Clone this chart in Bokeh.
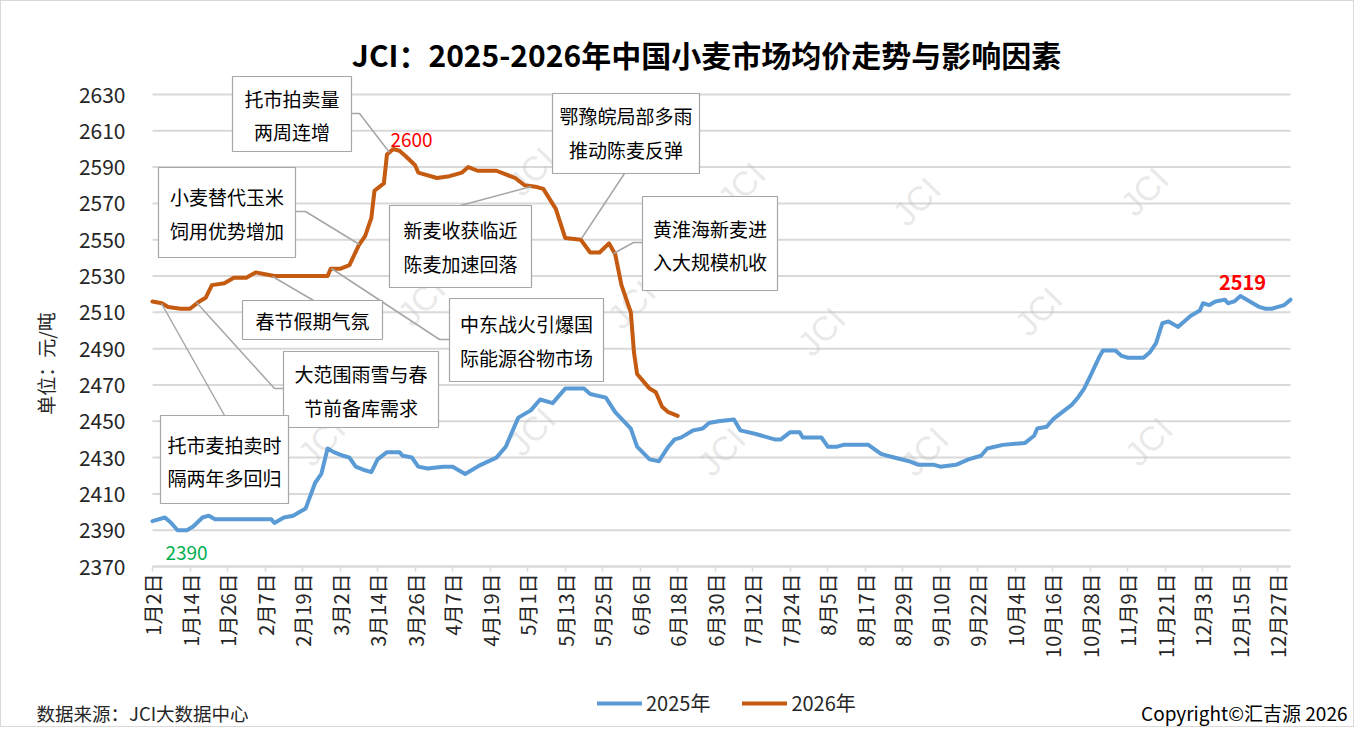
import re
from datetime import date
from math import pi

from bokeh.plotting import figure
from bokeh.models import (FixedTicker, Label, Legend, LegendItem, Range1d)
from bokeh.embed import file_html
from bokeh.resources import INLINE
from bokeh.core.properties import value

# ---------------- data ----------------
title_text = "JCI：2025-2026年中国小麦市场均价走势与影响因素"
y_title = "单位：元/吨"
source_text = "数据来源：JCI大数据中心"
copyright_text = "Copyright©汇吉源 2026"
series_names = ["2025年", "2026年"]

tick_labels = ["1月2日", "1月14日", "1月26日", "2月7日", "2月19日", "3月2日", "3月14日",
               "3月26日", "4月7日", "4月19日", "5月1日", "5月13日", "5月25日", "6月6日",
               "6月18日", "6月30日", "7月12日", "7月24日", "8月5日", "8月17日", "8月29日",
               "9月10日", "9月22日", "10月4日", "10月16日", "10月28日", "11月9日",
               "11月21日", "12月3日", "12月15日", "12月27日"]
y_ticks = [2370, 2390, 2410, 2430, 2450, 2470, 2490, 2510, 2530, 2550, 2570, 2590, 2610, 2630]

dates_2025 = ["01-02", "01-06", "01-08", "01-10", "01-13", "01-15", "01-18", "01-20", "01-22",
              "02-09", "02-10", "02-13", "02-16", "02-18", "02-20", "02-23", "02-25", "02-27",
              "02-29", "03-03", "03-05", "03-07", "03-10", "03-12", "03-14", "03-17", "03-21",
              "03-22", "03-25", "03-27", "03-30", "04-04", "04-07", "04-11", "04-16", "04-21",
              "04-24", "04-28", "05-02", "05-05", "05-09", "05-13", "05-19", "05-21", "05-26",
              "05-29", "06-03", "06-05", "06-09", "06-12", "06-15", "06-17", "06-19", "06-23",
              "06-26", "06-28", "07-01", "07-06", "07-08", "07-13", "07-19", "07-21", "07-24",
              "07-27", "07-28", "08-03", "08-05", "08-08", "08-10", "08-18", "08-22", "08-24",
              "08-31", "09-03", "09-08", "09-10", "09-15", "09-19", "09-23", "09-25", "09-30",
              "10-07", "10-10", "10-11", "10-14", "10-16", "10-19", "10-22", "10-24", "10-26",
              "10-28", "10-31", "11-01", "11-05", "11-07", "11-09", "11-14", "11-16", "11-18",
              "11-20", "11-22", "11-25", "11-27", "11-29", "12-02", "12-03", "12-05", "12-07",
              "12-10", "12-11", "12-13", "12-15", "12-18", "12-21", "12-23", "12-25", "12-27",
              "12-29", "12-31"]
price_2025 = [2395, 2397, 2394, 2390, 2390, 2392, 2397, 2398, 2396,
              2396, 2394, 2397, 2398, 2400, 2402, 2416, 2421, 2435,
              2433, 2431, 2430, 2425, 2423, 2422, 2429, 2433, 2433,
              2431, 2430, 2425, 2424, 2425, 2425, 2421, 2426, 2430,
              2436, 2452, 2456, 2462, 2460, 2468, 2468, 2465, 2463,
              2455, 2446, 2436, 2429, 2428, 2436, 2440, 2441, 2445,
              2446, 2449, 2450, 2451, 2445, 2443, 2440, 2440, 2444,
              2444, 2441, 2441, 2436, 2436, 2437, 2437, 2432, 2431,
              2428, 2426, 2426, 2425, 2426, 2429, 2431, 2435, 2437,
              2438, 2442, 2446, 2447, 2451, 2455, 2459, 2463, 2468,
              2475, 2486, 2489, 2489, 2486, 2485, 2485, 2488, 2493,
              2504, 2505, 2502, 2505, 2508, 2511, 2515, 2514, 2516,
              2517, 2515, 2516, 2519, 2516, 2513, 2512, 2512, 2513,
              2514, 2517]

dates_2026 = ["01-02", "01-05", "01-07", "01-11", "01-14", "01-17", "01-19", "01-21", "01-25",
              "01-28", "02-01", "02-04", "02-07", "02-10", "02-27", "02-28", "03-02", "03-05",
              "03-08", "03-10", "03-12", "03-13", "03-16", "03-17", "03-19", "03-21", "03-23",
              "03-26", "03-27", "04-02", "04-06", "04-10", "04-12", "04-15", "04-21", "04-27",
              "04-30", "05-04", "05-06", "05-10", "05-13", "05-18", "05-21", "05-24", "05-27",
              "05-29", "05-31", "06-03", "06-04", "06-05", "06-09", "06-11", "06-13", "06-15",
              "06-18"]
price_2026 = [2516, 2515, 2513, 2512, 2512, 2516, 2518, 2525, 2526,
              2529, 2529, 2532, 2531, 2530, 2530, 2534, 2534, 2536,
              2547, 2552, 2562, 2577, 2581, 2597, 2600, 2599, 2596,
              2591, 2587, 2584, 2585, 2587, 2590, 2588, 2588, 2584,
              2580, 2579, 2578, 2567, 2551, 2550, 2543, 2543, 2548,
              2542, 2525, 2510, 2488, 2476, 2468, 2466, 2458, 2455,
              2453]

note_texts = [
    ["托市拍卖量", "两周连增"],
    ["小麦替代玉米", "饲用优势增加"],
    ["新麦收获临近", "陈麦加速回落"],
    ["春节假期气氛"],
    ["中东战火引爆国", "际能源谷物市场"],
    ["大范围雨雪与春", "节前备库需求"],
    ["托市麦拍卖时", "隔两年多回归"],
    ["鄂豫皖局部多雨", "推动陈麦反弹"],
    ["黄淮海新麦进", "入大规模机收"],
]
peak_2026_text = "2600"
peak_2025_text = "2519"
low_2025_text = "2390"

# ---------------- helpers ----------------
BASE = date(2024, 1, 2)  # axis calendar (leap-year day spacing as in the original)


def day_of(mmdd):
    m, d = mmdd.split("-")
    return (date(2024, int(m), int(d)) - BASE).days


def day_of_label(lbl):
    m, d = re.match(r"(\d+)月(\d+)日", lbl).groups()
    return (date(2024, int(m), int(d)) - BASE).days


X0, X1 = 0, 364
W, H = 1354, 727
# pixel geometry of the plot area
PX_L, PX_R = 151.0, 1289.0
PX_BOT, PX_TOP_TICK = 565.0, 93.0
YPX = (PX_BOT - PX_TOP_TICK) / (y_ticks[-1] - y_ticks[0])
XPX = (PX_R - PX_L) / (X1 - X0)


def dx(px):
    return X0 + (px - PX_L) / XPX


def vy(py):
    return y_ticks[0] + (PX_BOT - py) / YPX


FONT = "Noto Sans CJK SC"
TXT = "#262626"

p = figure(width=W, height=H, x_range=Range1d(dx(0), dx(W)), y_range=Range1d(vy(H), vy(0)),
           output_backend="svg", toolbar_location=None, title=None,
           min_border=0, min_border_left=0, min_border_right=0,
           min_border_top=0, min_border_bottom=0)
p.outline_line_color = None
p.background_fill_color = "white"
p.border_fill_color = "white"
p.styles = {"border": "1px solid #d9d9d9"}

# horizontal grid lines limited to the plot area
p.segment(x0=[X0] * len(y_ticks), x1=[X1] * len(y_ticks), y0=y_ticks, y1=y_ticks,
          line_color="#d9d9d9", line_width=2)
p.xgrid.visible = False
p.ygrid.visible = False

# axes drawn at fixed locations inside the frame
p.xaxis.fixed_location = y_ticks[0]
p.xaxis.bounds = (X0, X1)
p.xaxis.ticker = FixedTicker(ticks=[day_of_label(t) for t in tick_labels])
p.xaxis.major_label_overrides = {day_of_label(t): t for t in tick_labels}
p.xaxis.major_label_orientation = pi / 2
p.xaxis.axis_line_color = "#d9d9d9"
p.xaxis.axis_line_width = 2
p.xaxis.major_tick_line_color = "#d9d9d9"
p.xaxis.major_tick_line_width = 1.5
p.xaxis.major_tick_in = 0
p.xaxis.major_tick_out = 5
p.xaxis.minor_tick_line_color = None
p.xaxis.major_label_standoff = 2
p.xaxis.major_label_text_font = FONT
p.xaxis.major_label_text_font_size = "20px"
p.xaxis.major_label_text_color = TXT

p.yaxis.fixed_location = X0
p.yaxis.bounds = (y_ticks[0], y_ticks[-1])
p.yaxis.ticker = FixedTicker(ticks=y_ticks)
p.yaxis.axis_line_color = None
p.yaxis.major_tick_line_color = None
p.yaxis.minor_tick_line_color = None
p.yaxis.major_label_standoff = 21
p.yaxis.major_label_text_font = FONT
p.yaxis.major_label_text_font_size = "21px"
p.yaxis.major_label_text_color = TXT

# watermarks (faint logo text)
wm_px = [(320, 440), (420, 300), (530, 170), (630, 303), (740, 185), (720, 450),
         (820, 330), (923, 450), (915, 200), (1037, 310), (1147, 440), (1143, 190), (530, 430)]
p.text([dx(a) for a, b in wm_px], [vy(b) for a, b in wm_px], text=["JCI"] * len(wm_px),
       angle=0.8, text_align="center", text_baseline="middle", text_color="#bfbfbf",
       text_alpha=0.35, text_font_size="34px", text_font=value("Liberation Sans"))

# data lines
x25 = [day_of(d) for d in dates_2025]
x26 = [day_of(d) for d in dates_2026]
r25 = p.line(x25, price_2025, line_width=4, line_color="#5B9BD5", line_join="round", line_cap="round")
r26 = p.line(x26, price_2026, line_width=4, line_color="#C55A11", line_join="round", line_cap="round")

# annotation boxes (pixel layout)
boxes_px = [(231, 75, 350, 150), (157, 166, 294, 256), (388, 204, 530, 286), (241, 299, 381, 338),
            (448, 297, 602, 380), (282, 350, 437, 426), (159, 414, 287, 502), (551, 92, 698, 172),
            (641, 195, 776, 289)]
lines_px = [(97, 130), (195, 229), (228, 262), (319,), (322, 356), (372, 406), (443, 476),
            (114, 148), (227, 260)]
leaders_px = [[(350, 112), (358, 112), (388, 151)],
              [(294, 210), (304, 210), (358, 243)],
              [(459, 204), (530, 185)],
              [(312, 299), (271, 275)],
              [(448, 338), (438, 338), (330, 267)],
              [(282, 387), (273, 387), (195, 301)],
              [(223, 414), (160, 302)],
              [(623, 172), (580, 237)],
              [(641, 241), (632, 241), (612, 252)]]
for pts in leaders_px:
    p.line([dx(a) for a, b in pts], [vy(b) for a, b in pts], line_color="#a6a6a6", line_width=1.5)
p.quad(left=[dx(b[0]) for b in boxes_px], right=[dx(b[2]) for b in boxes_px],
       top=[vy(b[1]) for b in boxes_px], bottom=[vy(b[3]) for b in boxes_px],
       fill_color="white", line_color="#a6a6a6", line_width=1.2)
for texts, box, ys in zip(note_texts, boxes_px, lines_px):
    cx = (box[0] + box[2]) / 2
    for t, yy in zip(texts, ys):
        p.add_layout(Label(x=dx(cx), y=vy(yy), text=t, text_align="center", text_baseline="middle",
                           text_font=FONT, text_font_size="19px", text_color="#000000"))

# value labels
p.add_layout(Label(x=dx(410), y=vy(138), text=peak_2026_text, text_align="center",
                   text_baseline="middle", text_font=FONT, text_font_size="19px", text_color="#FF0000"))
p.add_layout(Label(x=dx(1241), y=vy(281), text=peak_2025_text, text_align="center",
                   text_baseline="middle", text_font=FONT, text_font_size="20px",
                   text_font_style="bold", text_color="#FF0000"))
p.add_layout(Label(x=dx(185), y=vy(551), text=low_2025_text, text_align="center",
                   text_baseline="middle", text_font=FONT, text_font_size="19px", text_color="#00B050"))

# title, axis title, footer
p.add_layout(Label(x=dx(705), y=vy(52), text=title_text, text_align="center", text_baseline="middle",
                   text_font=FONT, text_font_size="30px", text_font_style="bold", text_color="#000000"))
p.add_layout(Label(x=dx(44), y=vy(362), text=y_title, angle=pi / 2, text_align="center",
                   text_baseline="middle", text_font=FONT, text_font_size="19px", text_color=TXT))
p.add_layout(Label(x=dx(35), y=vy(711), text=source_text, text_align="left", text_baseline="middle",
                   text_font=FONT, text_font_size="18.5px", text_color=TXT))
p.add_layout(Label(x=dx(1346), y=vy(711), text=copyright_text, text_align="right", text_baseline="middle",
                   text_font=FONT, text_font_size="19px", text_color="#000000"))

legend = Legend(items=[LegendItem(label=series_names[0], renderers=[r25]),
                       LegendItem(label=series_names[1], renderers=[r26])],
                orientation="horizontal", location=(596, H - 716),
                padding=0, margin=0, spacing=32, glyph_width=45, glyph_height=22,
                label_height=22, label_standoff=4, border_line_color=None,
                background_fill_alpha=0, label_text_font=FONT, label_text_font_size="20px",
                label_text_color=TXT)
p.add_layout(legend)

open("out.html", "w").write(file_html(p, INLINE))
